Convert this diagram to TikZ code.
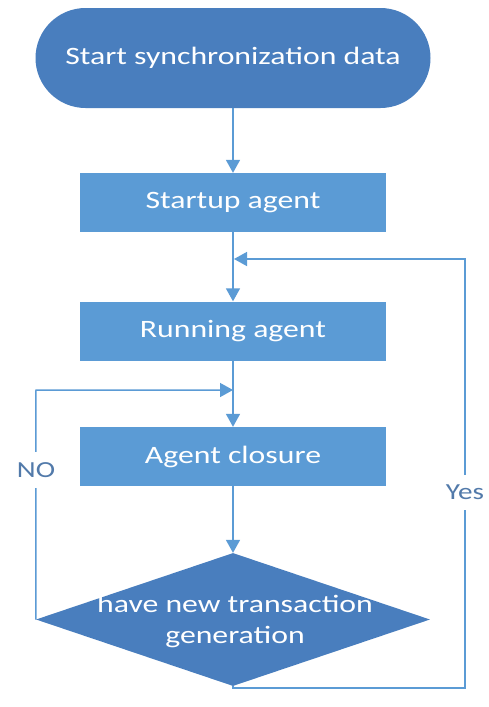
\documentclass[tikz,border=0pt]{standalone}
\usepackage{fontspec}
\setmainfont{Carlito}[FakeStretch=1.27]
\usetikzlibrary{arrows.meta,shapes.geometric}
\definecolor{boxblue}{RGB}{91,155,213}
\definecolor{darkblue}{RGB}{73,126,190}
\definecolor{labelblue}{RGB}{82,122,170}
\begin{document}
\begin{tikzpicture}[x=1pt,y=-1pt,
  maintext/.style={text=white,font=\fontsize{25}{30}\selectfont},
  terminal/.style={maintext,fill=darkblue,rounded corners=50pt,minimum width=395pt,minimum height=100pt,inner sep=0pt},
  procbox/.style={maintext,fill=boxblue,minimum width=306pt,minimum height=59pt,inner sep=0pt},
  decision/.style={diamond,fill=darkblue,minimum width=394pt,minimum height=133pt,inner sep=0pt},
  dectext/.style={maintext,anchor=base,inner sep=0pt},
  flow/.style={draw=boxblue,line width=1.5pt,-{Triangle[length=13pt,width=14pt]}},
  lbl/.style={text=labelblue,font=\fontsize{23}{27}\selectfont,fill=white,inner xsep=1pt,inner ysep=0pt}]
\useasboundingbox (0,0) rectangle (489,707);
\fill[white] (0,0) rectangle (489,707);

\node[terminal] (start) at (233,58) {Start synchronization data};
\node[procbox] (startup) at (233,202.5) {Startup agent};
\node[procbox] (running) at (233,331) {Running agent};
\node[procbox] (closure) at (233,456.5) {Agent closure};
\node[decision] (dec) at (233,619.5) {};
\node[dectext] (dt1) at (235,612) {have new transaction};
\node[dectext] (dt2) at (235,643) {generation};

\coordinate (j1) at (234,259);
\coordinate (j2) at (233,390);
\coordinate (bl) at (233,688);
\coordinate (br) at (465,688);
\coordinate (tr) at (465,259);
\coordinate (tl) at (36,390);

\draw[flow] (start.south) -- (startup.north);
\draw[flow] (startup.south) -- (running.north);
\draw[flow] (running.south) -- (closure.north);
\draw[flow] (closure.south) -- (dec.north);
\draw[flow] (dec.south) -- (bl) -- (br) -- (tr) -- (j1);
\draw[flow] (dec.west) -- (tl) -- (j2);

\node[lbl,minimum height=35pt] (yes) at (465,492.5) {Yes};
\node[lbl,minimum height=36pt] (no) at (36,470) {NO};
\end{tikzpicture}
\end{document}
